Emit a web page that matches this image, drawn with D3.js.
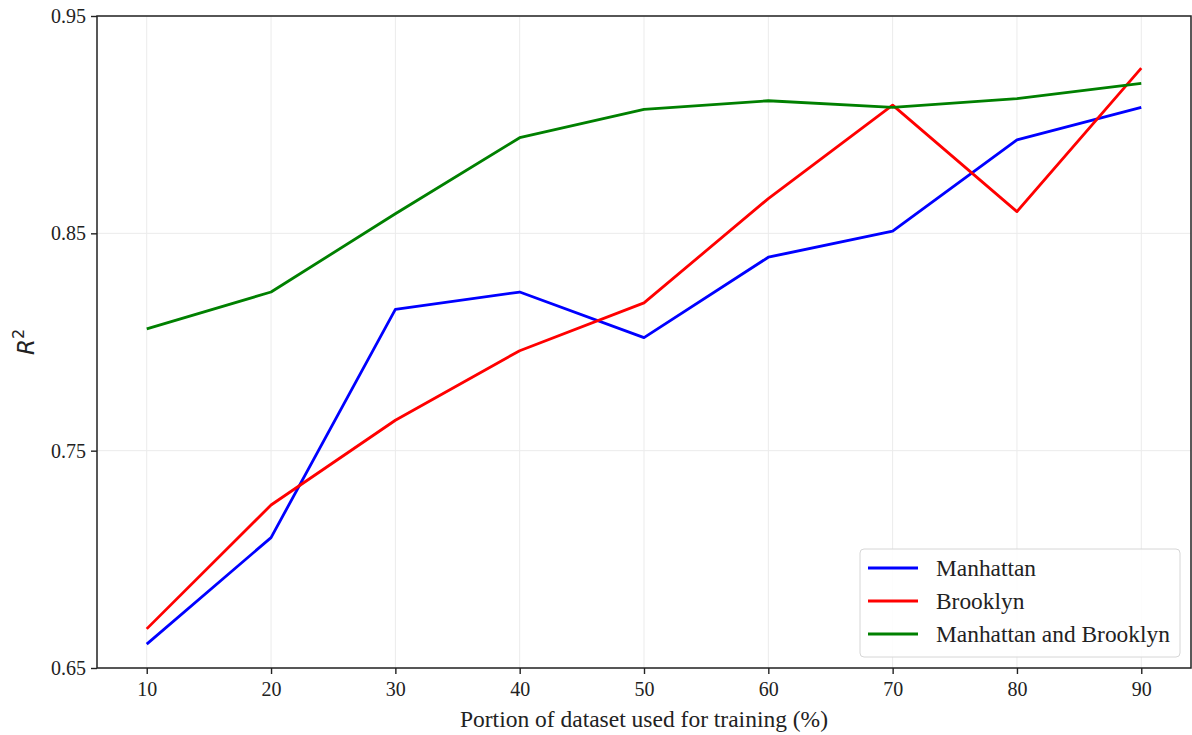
<!DOCTYPE html>
<html>
<head>
<meta charset="utf-8">
<script src="https://cdn.jsdelivr.net/npm/d3@7"></script>
<style>
  body { margin: 0; background: #fff; }
  svg { display: block; }
  .tick text { font-family: "Liberation Serif", "Times New Roman", serif; }
</style>
</head>
<body>
<svg id="chart"></svg>
<script>
const width = 1192;
const height = 735;
const margin = {top: 16, right: 1, bottom: 67, left: 97};

const portions = [10, 20, 30, 40, 50, 60, 70, 80, 90];
const manhattan = [0.661, 0.710, 0.815, 0.823, 0.802, 0.839, 0.851, 0.893, 0.908];
const brooklyn = [0.668, 0.725, 0.764, 0.796, 0.818, 0.866, 0.909, 0.860, 0.926];
const combined = [0.806, 0.823, 0.859, 0.894, 0.907, 0.911, 0.908, 0.912, 0.919];
const yTicks = [0.65, 0.75, 0.85, 0.95];

const series = [
  {name: 'Manhattan', values: manhattan, color: '#0000ff'},
  {name: 'Brooklyn', values: brooklyn, color: '#ff0000'},
  {name: 'Manhattan and Brooklyn', values: combined, color: '#008000'}
];

const x = d3.scaleLinear()
  .domain([6, 94])
  .range([margin.left, width - margin.right]);

const y = d3.scaleLinear()
  .domain([0.65, 0.95])
  .range([height - margin.bottom, margin.top]);

const svg = d3.select('#chart')
  .attr('width', width)
  .attr('height', height);

// grid
svg.append('g')
  .selectAll('line')
  .data(portions)
  .join('line')
  .attr('x1', d => x(d)).attr('x2', d => x(d))
  .attr('y1', margin.top).attr('y2', height - margin.bottom)
  .attr('stroke', '#ebebeb').attr('stroke-width', 1);

svg.append('g')
  .selectAll('line')
  .data(yTicks)
  .join('line')
  .attr('x1', margin.left).attr('x2', width - margin.right)
  .attr('y1', d => y(d)).attr('y2', d => y(d))
  .attr('stroke', '#ebebeb').attr('stroke-width', 1);

// lines
const line = d3.line()
  .x((d, i) => x(portions[i]))
  .y(d => y(d));

svg.append('g')
  .selectAll('path')
  .data(series)
  .join('path')
  .attr('d', d => line(d.values))
  .attr('fill', 'none')
  .attr('stroke', d => d.color)
  .attr('stroke-width', 2.8)
  .attr('stroke-linejoin', 'round');

// axes
const xAxis = svg.append('g')
  .attr('transform', `translate(0, ${height - margin.bottom})`)
  .call(d3.axisBottom(x).tickValues(portions).tickSize(6).tickPadding(8));

const yAxis = svg.append('g')
  .attr('transform', `translate(${margin.left}, 0)`)
  .call(d3.axisLeft(y).tickValues(yTicks).tickFormat(d3.format('.2f')).tickSize(6).tickPadding(5));

[xAxis, yAxis].forEach(g => {
  g.select('.domain').remove();
  g.selectAll('.tick line').attr('stroke', '#222').attr('stroke-width', 1.4);
  g.selectAll('.tick text').attr('font-size', 20).attr('fill', '#222');
});

// frame
svg.append('rect')
  .attr('x', margin.left).attr('y', margin.top)
  .attr('width', width - margin.left - margin.right)
  .attr('height', height - margin.top - margin.bottom)
  .attr('fill', 'none').attr('stroke', '#222').attr('stroke-width', 1.5);

// axis labels
svg.append('text')
  .attr('x', (margin.left + width - margin.right) / 2)
  .attr('y', 727)
  .attr('text-anchor', 'middle')
  .attr('font-family', '"Liberation Serif", "Times New Roman", serif')
  .attr('font-size', 23.5)
  .attr('fill', '#222')
  .text('Portion of dataset used for training (%)');

const yLabel = svg.append('text')
  .attr('transform', `translate(34, ${(margin.top + height - margin.bottom) / 2}) rotate(-90)`)
  .attr('text-anchor', 'middle')
  .attr('font-family', '"DejaVu Sans", sans-serif')
  .attr('font-size', 23)
  .attr('fill', '#222');
yLabel.append('tspan').attr('font-style', 'italic').text('R');
yLabel.append('tspan').attr('font-size', 16).attr('dy', -10).text('2');

// legend
const legend = svg.append('g').attr('transform', 'translate(860, 549)');
legend.append('rect')
  .attr('width', 320).attr('height', 108)
  .attr('rx', 4)
  .attr('fill', '#fff').attr('fill-opacity', 0.85)
  .attr('stroke', '#d6d6d6').attr('stroke-width', 1);

const item = legend.selectAll('g.item')
  .data(series)
  .join('g')
  .attr('class', 'item')
  .attr('transform', (d, i) => `translate(0, ${19 + i * 33})`);

item.append('line')
  .attr('x1', 8).attr('x2', 58)
  .attr('stroke', d => d.color)
  .attr('stroke-width', 2.8);

item.append('text')
  .attr('x', 76).attr('dy', '0.33em')
  .attr('font-family', '"Liberation Serif", "Times New Roman", serif')
  .attr('font-size', 23.4)
  .attr('fill', '#222')
  .text(d => d.name);
</script>
</body>
</html>
